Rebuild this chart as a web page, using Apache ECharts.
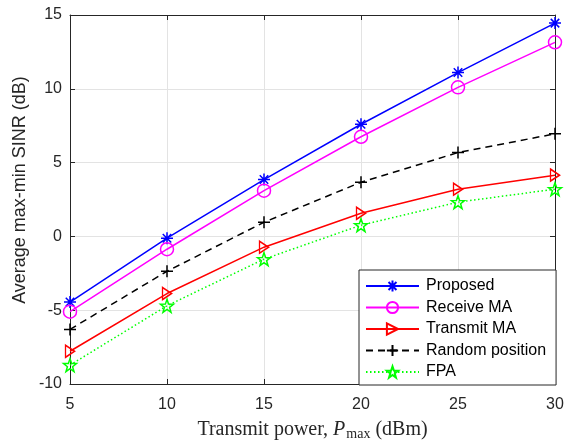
<!DOCTYPE html>
<html>
<head>
<meta charset="utf-8">
<script src="https://cdn.jsdelivr.net/npm/echarts@6/dist/echarts.min.js"></script>
<style>
  html, body { margin: 0; padding: 0; background: #fff; }
  #chart { width: 566px; height: 442px; }
</style>
</head>
<body>
<div id="chart"></div>
<script>
// Transmit power levels (dBm)
const powerLevels = [5, 10, 15, 20, 25, 30];

// Average max-min SINR (dB) per scheme
const proposed   = [-4.45, -0.12, 3.85, 7.6, 11.1, 14.45];
const receiveMA  = [-5.1, -0.87, 3.1, 6.75, 10.1, 13.15];
const transmitMA = [-7.78, -3.87, -0.73, 1.57, 3.2, 4.15];
const randomPos  = [-6.3, -2.36, 0.96, 3.67, 5.68, 6.95];
const fpa        = [-8.72, -4.7, -1.54, 0.76, 2.32, 3.2];

const seriesNames = ['Proposed', 'Receive MA', 'Transmit MA', 'Random position', 'FPA'];

// Marker outlines
const ASTERISK = 'path://M0,-10L0,10M-10,0L10,0M-7.07,-7.07L7.07,7.07M-7.07,7.07L7.07,-7.07';
const CIRCLE = 'path://M10,0A10,10,0,1,1,-10,0A10,10,0,1,1,10,0Z';
const TRI_RIGHT = 'path://M-10,-10L10,0L-10,10Z';
const PLUS = 'path://M0,-10L0,10M-10,0L10,0';
const STAR = 'path://M0,-10L2.35,-3.24L9.51,-3.09L3.8,1.24L5.88,8.09L0,4L-5.88,8.09L-3.8,1.24L-9.51,-3.09L-2.35,-3.24Z';

function toPairs(arr) {
  return powerLevels.map((p, i) => [p, arr[i]]);
}

function makeSeries(name, data, color, symbol, size, lineType) {
  return {
    name: name,
    type: 'line',
    data: toPairs(data),
    symbol: symbol,
    symbolSize: size,
    showAllSymbol: true,
    animation: false,
    lineStyle: { color: color, width: 1.5, type: lineType },
    itemStyle: { color: 'rgba(0,0,0,0)', borderColor: color, borderWidth: 1.5 },
    emphasis: { disabled: true },
    z: 3
  };
}

const axisColor = '#262626';
const gridColor = '#e3e3e3';
const sans = 'Liberation Sans, Arial, Helvetica, sans-serif';
const serif = 'Liberation Serif, Times New Roman, serif';
const tickFont = { fontFamily: sans, fontSize: 16, color: '#262626' };

function frameAxis(extra) {
  return Object.assign({
    type: 'value',
    axisLine: { show: true, onZero: false, lineStyle: { color: axisColor, width: 1 } },
    axisTick: { show: true, inside: true, length: 5, lineStyle: { color: axisColor } },
    axisLabel: { show: false },
    splitLine: { show: false }
  }, extra);
}

const chart = echarts.init(document.getElementById('chart'), null, { renderer: 'canvas' });

chart.setOption({
  backgroundColor: '#ffffff',
  animation: false,
  grid: { left: 70, right: 11, top: 15, bottom: 58, containLabel: false, outerBoundsMode: 'none' },
  legend: {
    orient: 'vertical',
    left: 359,
    top: 270,
    padding: [8, 10, 5, 6],
    itemWidth: 53,
    itemHeight: 14,
    itemGap: 5.5,
    backgroundColor: '#ffffff',
    borderColor: axisColor,
    borderWidth: 1,
    borderRadius: 0,
    data: seriesNames,
    textStyle: { fontFamily: sans, fontSize: 16, lineHeight: 16, color: '#000', padding: [0, 0, 0, 2] }
  },
  xAxis: [
    frameAxis({
      min: 5, max: 30, interval: 5,
      name: '{t|Transmit power, }{i|P}{s|max}{t| (dBm)}',
      nameLocation: 'middle',
      nameGap: 34,
      nameTextStyle: {
        rich: {
          t: { fontFamily: serif, fontSize: 20, color: '#262626' },
          i: { fontFamily: serif, fontSize: 20, fontStyle: 'italic', color: '#262626' },
          s: { fontFamily: serif, fontSize: 14, color: '#262626', padding: [9, 0, 0, 1] }
        }
      },
      axisLabel: Object.assign({ show: true, margin: 13 }, tickFont),
      splitLine: { show: true, lineStyle: { color: gridColor, width: 1 } }
    }),
    frameAxis({ position: 'top', min: 5, max: 30, interval: 5 })
  ],
  yAxis: [
    frameAxis({
      min: -10, max: 15, interval: 5,
      axisLabel: Object.assign({ show: true, margin: 8, formatter: v => String(v) }, tickFont),
      splitLine: { show: true, lineStyle: { color: gridColor, width: 1 } }
    }),
    frameAxis({ position: 'right', min: -10, max: 15, interval: 5 })
  ],
  graphic: [{
    type: 'text',
    x: 20,
    y: 190,
    rotation: Math.PI / 2,
    style: {
      text: 'Average max-min SINR (dB)',
      fontFamily: sans,
      fontSize: 18,
      fill: '#262626',
      textAlign: 'center',
      textVerticalAlign: 'middle'
    }
  }],
  series: [
    makeSeries('Proposed', proposed, '#0000ff', ASTERISK, 12, 'solid'),
    makeSeries('Receive MA', receiveMA, '#ff00ff', CIRCLE, 13, 'solid'),
    makeSeries('Transmit MA', transmitMA, '#ff0000', TRI_RIGHT, [9, 12], 'solid'),
    makeSeries('Random position', randomPos, '#000000', PLUS, 12, [7, 5]),
    makeSeries('FPA', fpa, '#00ff00', STAR, 13, [1.5, 2.5])
  ]
});
</script>
</body>
</html>
